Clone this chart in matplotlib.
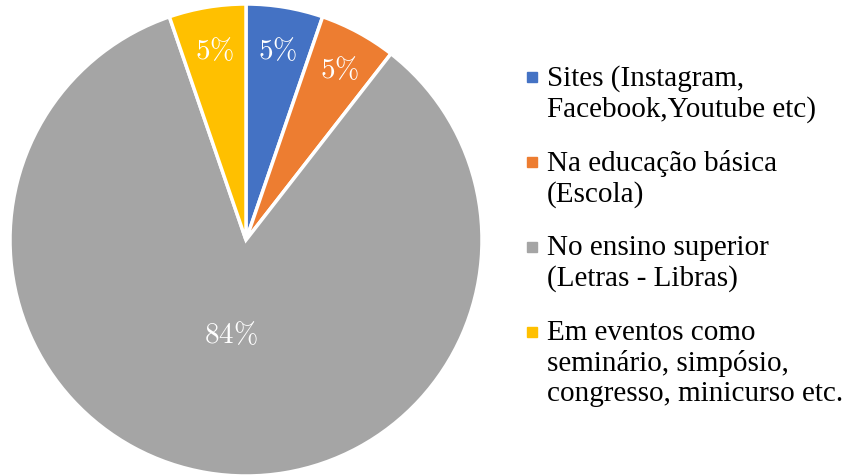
import matplotlib.pyplot as plt
from matplotlib.patches import Rectangle
import numpy as np

# Data (19 respondents: 1, 1, 16, 1)
labels = ['Sites (Instagram,\nFacebook,Youtube etc)',
          'Na educação básica\n(Escola)',
          'No ensino superior\n(Letras - Libras)',
          'Em eventos como\nseminário, simpósio,\ncongresso, minicurso etc.']
counts = [1, 1, 16, 1]
pct_text = ['5%', '5%', '84%', '5%']
colors = ['#4472C4', '#ED7D31', '#A5A5A5', '#FFC000']
label_radius = [0.82, 0.83, 0.40, 0.82]

plt.rcParams['font.family'] = ['Liberation Serif', 'DejaVu Serif']
plt.rcParams['mathtext.fontset'] = 'cm'

fig = plt.figure(figsize=(8.46, 4.75), dpi=100)
ax = fig.add_axes([10 / 846, -1 / 475, 472 / 846, 472 / 475])

wedges, _ = ax.pie(counts, colors=colors, startangle=90, counterclock=False,
                   radius=1, wedgeprops=dict(edgecolor='white', linewidth=2.5))
ax.set_xlim(-1, 1)
ax.set_ylim(-1, 1)
ax.set_aspect('equal')
ax.axis('off')

# percentage labels inside the slices
for w, t, r in zip(wedges, pct_text, label_radius):
    mid = np.deg2rad((w.theta1 + w.theta2) / 2)
    ax.text(r * np.cos(mid), r * np.sin(mid) - 0.01, '$' + t.replace('%', r'\%') + '$',
            color='white', fontsize=21, ha='center', va='center')

# legend on the right, squares aligned with the first line
y = 77
for lab, c in zip(labels, colors):
    fig.patches.append(Rectangle((527 / 846, 1 - (y + 5) / 475), 10 / 846, 10 / 475,
                                 transform=fig.transFigure, color=c))
    fig.text(547 / 846, 1 - (y - 12) / 475, lab, fontsize=21, ha='left', va='top',
             linespacing=1.2)
    y += 85

fig.savefig('out.png', dpi=100, facecolor='white')
